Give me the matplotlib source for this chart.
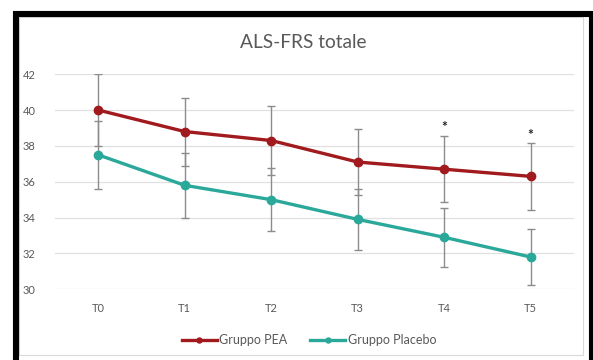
import matplotlib
matplotlib.use("Agg")
import matplotlib.pyplot as plt
from matplotlib.patches import Rectangle
import numpy as np

# Time points and group scores (mean ± SD)
timepoints = ["T0", "T1", "T2", "T3", "T4", "T5"]
pea_mean = [40.0, 38.8, 38.3, 37.1, 36.7, 36.3]
pea_err = [2.0, 1.9, 1.95, 1.85, 1.85, 1.85]
placebo_mean = [37.5, 35.8, 35.0, 33.9, 32.9, 31.8]
placebo_err = [1.9, 1.8, 1.75, 1.72, 1.63, 1.58]
significant = [False, False, False, False, True, True]

RED = "#a11a1d"
TEAL = "#2aa89a"
GREY_TXT = "#595959"
plt.rcParams["font.family"] = ["Lato", "DejaVu Sans"]

fig = plt.figure(figsize=(5.93, 3.6), dpi=100)
W, H = 593, 360

def fx(px):
    return px / W

def fy(py):
    return 1 - py / H

ax = fig.add_axes([fx(55), fy(289.3), fx(574) - fx(55), fy(74.2) - fy(289.3)])
x = np.arange(len(timepoints))

ax.errorbar(x, pea_mean, yerr=pea_err, fmt="none", ecolor="#8c8c8c",
            elinewidth=1.0, capsize=3, capthick=1.0, zorder=2)
ax.errorbar(x, placebo_mean, yerr=placebo_err, fmt="none", ecolor="#8c8c8c",
            elinewidth=1.0, capsize=3, capthick=1.0, zorder=2)
ax.plot(x, pea_mean, color=RED, lw=2.4, marker="o", ms=6, label="Gruppo PEA", zorder=3)
ax.plot(x, placebo_mean, color=TEAL, lw=2.4, marker="o", ms=6, label="Gruppo Placebo", zorder=3)

for xi, m, e, s in zip(x, pea_mean, pea_err, significant):
    if s:
        ax.text(xi, m + e + 0.15, "*", ha="center", va="bottom", fontsize=10,
                color="#222222", fontweight="bold")

ax.set_xlim(-0.5, len(timepoints) - 0.5)
ax.set_ylim(30, 42)
ax.set_yticks(range(30, 43, 2))
ax.set_xticks(x)
ax.set_xticklabels(timepoints)
ax.grid(axis="y", color="#e0e0e0", lw=0.9)
ax.set_axisbelow(True)
for sp in ax.spines.values():
    sp.set_visible(False)
ax.tick_params(axis="both", length=0, colors=GREY_TXT, labelsize=8)
ax.tick_params(axis="y", pad=14)
ax.tick_params(axis="x", pad=10)

fig.text(fx(303), fy(42), "ALS-FRS totale", ha="center", va="center",
         fontsize=13.8, color=GREY_TXT)

fig.legend(loc="center", bbox_to_anchor=(fx(309), fy(340)), ncol=2, frameon=False,
           fontsize=9, labelcolor=GREY_TXT, handlelength=2.8, handletextpad=0.2,
           columnspacing=1.8, markerscale=0.6)

# chart area and outer frame
fig.patches.append(Rectangle((fx(19), fy(355)), fx(583) - fx(19), fy(17) - fy(355),
                             transform=fig.transFigure, fill=False,
                             edgecolor="#d9d9d9", lw=0.8))
fig.patches.append(Rectangle((fx(16), fy(380)), fx(592) - fx(16), fy(14) - fy(380),
                             transform=fig.transFigure, fill=False,
                             edgecolor="black", lw=4.4))

fig.savefig("out.png", dpi=100)
